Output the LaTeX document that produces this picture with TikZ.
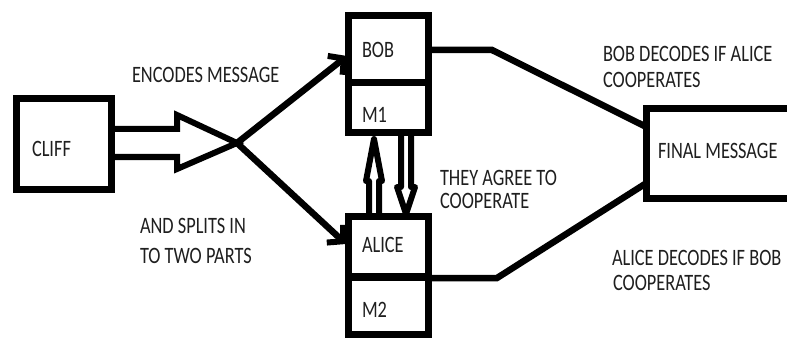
\documentclass[tikz,border=0pt]{standalone}
\usepackage{fontspec}
\setmainfont{Carlito}
\usetikzlibrary{arrows.meta,calc}
\newcommand{\cnd}[1]{\scalebox{0.78}[1]{#1}}
\begin{document}
\begin{tikzpicture}[x=1pt,y=-1pt,
  box/.style={draw=black,line width=7pt,inner sep=0pt,outer sep=0pt,rectangle},
  lbl/.style={anchor=base west,inner sep=0pt,outer sep=0pt,text=black!88,font=\fontsize{23.5}{28}\selectfont},
  conn/.style={line width=6.5pt,line join=miter},
  hollow/.style={line width=6pt,line join=round},
  barb/.style={-{Straight Barb[length=11pt,width=24pt,line width=6pt]}}]
\useasboundingbox (0,0) rectangle (787,342);
\clip (0,0) rectangle (787,342);
\fill[white] (0,0) rectangle (787,342);
% boxes
\node[box,minimum width=95pt,minimum height=91pt] (cliff) at (64,144) {};
\node[box,minimum width=80pt,minimum height=67.5pt] (bob) at (388.5,49.25) {};
\node[box,minimum width=80pt,minimum height=50pt] (m1) at (388.5,108) {};
\node[box,minimum width=80pt,minimum height=60pt] (alice) at (388.5,246.5) {};
\node[box,minimum width=80pt,minimum height=57pt] (m2) at (388.5,305.5) {};
\node[box,minimum width=160pt,minimum height=90pt] (final) at (726.5,153.5) {};
% box labels
\node[lbl] (tcliff) at (32,157) {\cnd{CLIFF}};
\node[lbl] (tbob) at (362,58) {\cnd{BOB}};
\node[lbl] (tm1) at (362,123) {\cnd{M1}};
\node[lbl] (talice) at (362,252) {\cnd{ALICE}};
\node[lbl] (tm2) at (362,317) {\cnd{M2}};
\node[lbl] (tfinal) at (658,158) {\cnd{FINAL MESSAGE}};
% free labels
\node[lbl] (enc) at (132,83) {\cnd{ENCODES MESSAGE}};
\node[lbl] (spl1) at (140,233) {\cnd{AND SPLITS IN}};
\node[lbl] (spl2) at (140,263) {\cnd{TO TWO PARTS}};
\node[lbl] (bd1) at (603,62) {\cnd{BOB DECODES IF ALICE}};
\node[lbl] (bd2) at (603,88) {\cnd{COOPERATES}};
\node[lbl] (ag1) at (440,185) {\cnd{THEY AGREE TO}};
\node[lbl] (ag2) at (440,208) {\cnd{COOPERATE}};
\node[lbl] (ad1) at (612,265) {\cnd{ALICE DECODES IF BOB}};
\node[lbl] (ad2) at (613,290) {\cnd{COOPERATES}};
% hollow arrow from CLIFF
\coordinate (split) at (237,143);
\draw[line width=6pt,line join=miter]
  ($(cliff.east)+(0,-15)$) -- (177,129) -- (177,115) -- (split)
  -- (177,169) -- (177,157) -- ($(cliff.east)+(0,13)$);
% split connectors
\coordinate (bobin) at (347,56);
\coordinate (alicein) at (346,244);
\draw[conn,barb] (split) -- (bobin);
\draw[conn,barb] (split) -- (alicein);
% vertical hollow arrows
\draw[hollow] (369,215) -- (369,181) -- (366,181) -- (374,139) -- (382,181) -- (379,181) -- (379,215);
\draw[hollow] (401,135) -- (401,187) -- (397,187) -- (406,214) -- (415,187) -- (411,187) -- (411,135);
% to final message
\coordinate (bk) at (492,50);
\coordinate (ak) at (497,278);
\draw[conn] ($(bob.east)+(0,0.75)$) -- (bk) -- ($(final.west)+(0,-26.5)$);
\draw[conn] ($(m2.north east)+(0,1)$) -- (ak) -- ($(final.west)+(0,29.5)$);
\end{tikzpicture}
\end{document}
